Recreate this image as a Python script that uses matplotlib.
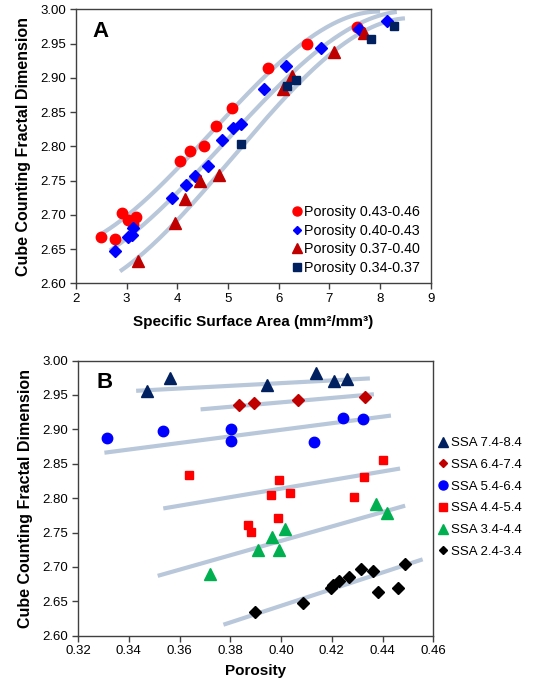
import numpy as np
import matplotlib
matplotlib.use("Agg")
import matplotlib.pyplot as plt
from matplotlib.lines import Line2D

plt.rcParams["font.family"] = ["Liberation Sans", "DejaVu Sans"]

# ---- Panel A: fractal dimension vs specific surface area ----
por_043_x = [2.49, 2.78, 2.91, 3.03, 3.13, 3.18, 4.06, 4.25, 4.52, 4.77, 5.07, 5.79, 6.55, 7.54]
por_043_y = [2.668, 2.664, 2.703, 2.693, 2.687, 2.697, 2.778, 2.793, 2.801, 2.830, 2.856, 2.915, 2.949, 2.974]
por_040_x = [2.78, 3.03, 3.10, 3.12, 3.89, 4.17, 4.35, 4.60, 4.89, 5.09, 5.25, 5.71, 6.14, 6.83, 7.59, 8.13]
por_040_y = [2.647, 2.667, 2.670, 2.680, 2.724, 2.743, 2.756, 2.771, 2.809, 2.826, 2.832, 2.883, 2.917, 2.943, 2.971, 2.983]
por_037_x = [3.23, 3.95, 4.16, 4.45, 4.83, 6.09, 6.27, 7.09, 7.68]
por_037_y = [2.633, 2.688, 2.723, 2.750, 2.758, 2.883, 2.902, 2.937, 2.965]
por_034_x = [5.25, 6.17, 6.35, 7.82, 8.28]
por_034_y = [2.804, 2.888, 2.897, 2.956, 2.976]

# guide points
curve_top_x = [2.44, 3.10, 4.10, 4.77, 5.23, 6.55, 8.00]
curve_top_y = [2.672, 2.700, 2.775, 2.824, 2.875, 2.949, 2.998]
curve_mid_x = [2.67, 3.90, 5.10, 5.50, 6.81, 8.33]
curve_mid_y = [2.648, 2.724, 2.824, 2.845, 2.943, 2.996]
curve_bot_x = [2.87, 4.00, 5.56, 5.73, 7.07, 8.49]
curve_bot_y = [2.619, 2.688, 2.824, 2.845, 2.933, 2.988]

# ---- Panel B: fractal dimension vs porosity ----
ssa_74_x = [0.3473, 0.3562, 0.3943, 0.4138, 0.4210, 0.4261]
ssa_74_y = [2.955, 2.974, 2.965, 2.982, 2.970, 2.973]
ssa_64_x = [0.3836, 0.3893, 0.4068, 0.4331]
ssa_64_y = [2.936, 2.938, 2.943, 2.947]
ssa_54_x = [0.3313, 0.3536, 0.3802, 0.3802, 0.4130, 0.4245, 0.4322]
ssa_54_y = [2.888, 2.898, 2.901, 2.883, 2.882, 2.917, 2.915]
ssa_44_x = [0.3637, 0.3871, 0.3882, 0.3959, 0.3992, 0.3987, 0.4035, 0.4289, 0.4328, 0.4403]
ssa_44_y = [2.833, 2.761, 2.751, 2.805, 2.827, 2.771, 2.808, 2.802, 2.830, 2.856]
ssa_34_x = [0.3720, 0.3910, 0.3963, 0.3992, 0.4016, 0.4374, 0.4419]
ssa_34_y = [2.689, 2.724, 2.743, 2.724, 2.755, 2.792, 2.778]
ssa_24_x = [0.3897, 0.4085, 0.4197, 0.4205, 0.4230, 0.4269, 0.4314, 0.4361, 0.4383, 0.4460, 0.4488]
ssa_24_y = [2.635, 2.647, 2.669, 2.673, 2.680, 2.685, 2.697, 2.694, 2.664, 2.669, 2.704]

# trend line end points (x0, y0, x1, y1) per SSA group
trend_74 = [0.3429, 2.956, 0.4350, 2.974]
trend_64 = [0.3683, 2.929, 0.4366, 2.951]
trend_54 = [0.3304, 2.866, 0.4433, 2.920]
trend_44 = [0.3536, 2.785, 0.4469, 2.843]
trend_34 = [0.3514, 2.687, 0.4489, 2.789]
trend_24 = [0.3773, 2.616, 0.4558, 2.711]

TREND_COLOR = "#B9C7DA"
NAVY = "#002060"
DARK_RED = "#C00000"
GREEN = "#00B050"


def style_axes(ax):
    for s in ax.spines.values():
        s.set_color("#404040")
        s.set_linewidth(1.0)
    ax.tick_params(direction="out", length=4, width=1, color="#404040",
                   labelsize=9.5, pad=3)


fig = plt.figure(figsize=(5.46, 6.94), dpi=100)

# Panel A
axA = fig.add_axes([0.139, 0.5918, 0.650, 0.3948])
for cx, cy in [(curve_top_x, curve_top_y), (curve_mid_x, curve_mid_y), (curve_bot_x, curve_bot_y)]:
    coef = np.polyfit(cx, cy, 3)
    xs = np.linspace(min(cx), max(cx), 200)
    axA.plot(xs, np.polyval(coef, xs), color=TREND_COLOR, lw=3, zorder=1,
             solid_capstyle="butt")

axA.plot(por_043_x, por_043_y, "o", color="#FF0000", ms=7.5, ls="none", zorder=3)
axA.plot(por_040_x, por_040_y, "D", color="#0000FF", ms=6, ls="none", zorder=3)
axA.plot(por_037_x, por_037_y, "^", color=DARK_RED, ms=8, ls="none", zorder=3)
axA.plot(por_034_x, por_034_y, "s", color=NAVY, ms=6, ls="none", zorder=3)

axA.set_xlim(2, 9)
axA.set_ylim(2.60, 3.00)
axA.set_xticks(range(2, 10))
axA.set_yticks(np.arange(2.60, 3.001, 0.05))
axA.yaxis.set_major_formatter(plt.FormatStrFormatter("%.2f"))
style_axes(axA)
axA.set_xlabel("Specific Surface Area (mm\u00b2/mm\u00b3)",
               fontsize=11, fontweight="bold", labelpad=7)
axA.set_ylabel("Cube Counting Fractal Dimension", fontsize=11.5, fontweight="bold",
               labelpad=7)
axA.text(0.07, 0.92, "A", transform=axA.transAxes, fontsize=16, fontweight="bold",
         ha="center", va="center")

legA = [
    Line2D([], [], marker="o", color="#FF0000", ls="none", ms=6.5, label="Porosity 0.43-0.46"),
    Line2D([], [], marker="D", color="#0000FF", ls="none", ms=4.5, label="Porosity 0.40-0.43"),
    Line2D([], [], marker="^", color=DARK_RED, ls="none", ms=6.5, label="Porosity 0.37-0.40"),
    Line2D([], [], marker="s", color=NAVY, ls="none", ms=6, label="Porosity 0.34-0.37"),
]
axA.legend(handles=legA, loc="lower right", bbox_to_anchor=(0.97, 0.03), frameon=False,
           fontsize=10.3, handlelength=0.6, handletextpad=0.2, labelspacing=0.33,
           borderaxespad=0, borderpad=0)

# Panel B
axB = fig.add_axes([0.1429, 0.0840, 0.6507, 0.3965])
for t in [trend_74, trend_64, trend_54, trend_44, trend_34, trend_24]:
    axB.plot([t[0], t[2]], [t[1], t[3]], color=TREND_COLOR, lw=3, zorder=1,
             solid_capstyle="butt")

axB.plot(ssa_74_x, ssa_74_y, "^", color=NAVY, ms=8, ls="none", zorder=3)
axB.plot(ssa_64_x, ssa_64_y, "D", color=DARK_RED, ms=6.5, ls="none", zorder=3)
axB.plot(ssa_54_x, ssa_54_y, "o", color="#0000FF", ms=7.5, ls="none", zorder=3)
axB.plot(ssa_44_x, ssa_44_y, "s", color="#FF0000", ms=6, ls="none", zorder=3)
axB.plot(ssa_34_x, ssa_34_y, "^", color=GREEN, ms=8, ls="none", zorder=3)
axB.plot(ssa_24_x, ssa_24_y, "D", color="#000000", ms=6.5, ls="none", zorder=3)

axB.set_xlim(0.32, 0.46)
axB.set_ylim(2.60, 3.00)
axB.set_xticks(np.arange(0.32, 0.4601, 0.02))
axB.set_yticks(np.arange(2.60, 3.001, 0.05))
axB.xaxis.set_major_formatter(plt.FormatStrFormatter("%.2f"))
axB.yaxis.set_major_formatter(plt.FormatStrFormatter("%.2f"))
style_axes(axB)
axB.set_xlabel("Porosity", fontsize=11, fontweight="bold", labelpad=5)
axB.set_ylabel("Cube Counting Fractal Dimension", fontsize=11.5, fontweight="bold",
               labelpad=7)
axB.text(0.075, 0.92, "B", transform=axB.transAxes, fontsize=16, fontweight="bold",
         ha="center", va="center")

legB = [
    Line2D([], [], marker="^", color=NAVY, ls="none", ms=6.5, label="SSA 7.4-8.4"),
    Line2D([], [], marker="D", color=DARK_RED, ls="none", ms=4.5, label="SSA 6.4-7.4"),
    Line2D([], [], marker="o", color="#0000FF", ls="none", ms=6.5, label="SSA 5.4-6.4"),
    Line2D([], [], marker="s", color="#FF0000", ls="none", ms=6, label="SSA 4.4-5.4"),
    Line2D([], [], marker="^", color=GREEN, ls="none", ms=6.5, label="SSA 3.4-4.4"),
    Line2D([], [], marker="D", color="#000000", ls="none", ms=4.5, label="SSA 2.4-3.4"),
]
fig.legend(handles=legB, loc="upper left", bbox_to_anchor=(439 / 546, 1 - 437 / 694),
           frameon=False, fontsize=9.5, handlelength=0.6, handletextpad=0.3,
           labelspacing=0.72, borderaxespad=0, borderpad=0)

fig.savefig("out.png", dpi=100)
